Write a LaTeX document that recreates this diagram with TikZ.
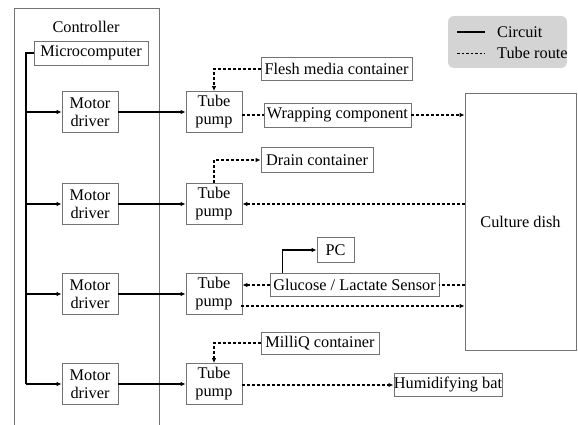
\documentclass[tikz,border=0pt]{standalone}
\usepackage{fontspec}
\newfontfamily\libserif{Liberation Serif}
\usetikzlibrary{arrows.meta}
\begin{document}
\begin{tikzpicture}[x=1pt,y=-1pt,
  font=\libserif\fontsize{16.3}{19}\selectfont,
  box/.style={draw=black!55,line width=0.8pt,inner sep=0pt,align=center},
  circ/.style={line width=1.2pt,black},
  tube/.style={line width=1.2pt,black,dash pattern=on 3pt off 2pt},
  tip/.style={-{Latex[length=5pt,width=4.5pt]}}]
\useasboundingbox (0,0) rectangle (578,425);
% controller frame (open bottom)
\draw[black!55,line width=0.9pt] (14,425) -- (14,8) -- (159,8) -- (159,425);
\node (ctrl) at (86,27) {Controller};
\node[box,minimum width=114,minimum height=24] (micro) at (91,53) {Microcomputer};
\foreach \i/\y in {1/112,2/204,3/294,4/384}{
  \node[box,minimum width=56,minimum height=41] (md\i) at (90,\y) {Motor\\[-1pt]driver};
  \node[box,minimum width=56,minimum height=41] (tp\i) at (214,\y) {Tube\\[-1pt]pump};
}
\coordinate (bus) at (26,0);
\node[box,minimum width=151,minimum height=23] (flesh) at (336.5,69) {Flesh media container};
\node[box,minimum width=147,minimum height=24] (wrap) at (337.5,115) {Wrapping component};
\node[box,minimum width=112,minimum height=25] (drain) at (317,160) {Drain container};
\node[box,minimum width=37,minimum height=25] (pc) at (335.5,250) {PC};
\node[box,minimum width=169,minimum height=23] (sensor) at (354.5,285) {Glucose / Lactate Sensor};
\node[box,minimum width=118,minimum height=22] (milliq) at (320,343) {MilliQ container};
\node[box,minimum width=96,minimum height=23] (humid) at (448,385) {Humidifying bat};
\node[box,minimum width=111,minimum height=257] (dish) at (520.5,221.5) {Culture dish};
% legend
\node[fill=black!17,rounded corners=6pt,minimum width=119,minimum height=52,inner sep=0pt] (legend) at (507.5,42) {};
\coordinate (l1a) at (457,32); \coordinate (l1b) at (485,32);
\coordinate (l2a) at (457,53); \coordinate (l2b) at (485,53);
\draw[line width=1.2pt] (l1a) -- (l1b);
\draw[line width=0.9pt,dash pattern=on 2.5pt off 2pt] (l2a) -- (l2b);
\node[anchor=west,inner sep=0pt] (lc) at (497,32) {Circuit};
\node[anchor=west,inner sep=0pt] (lt) at (497,53) {Tube route};
% circuit bus
\draw[circ] (micro.west) -- (micro.west -| bus) -- (bus |- md4.west);
\foreach \i in {1,2,3,4}{
  \draw[circ,tip] (bus |- md\i.west) -- (md\i.west);
  \draw[circ,tip] (md\i.east) -- (tp\i.west);
}
% row 1
\draw[tube,tip] (flesh.west) -| (tp1.north);
\draw[tube] (tp1.east |- wrap.west) -- (wrap.west);
\draw[tube,tip] (wrap.east) -- (dish.west |- wrap.east);
% row 2
\draw[tube,tip] (tp2.north) |- (drain.west);
\draw[tube,tip] (dish.west |- tp2.east) -- (tp2.east);
% row 3
\coordinate (sup) at ([xshift=13pt]sensor.north west);
\draw[circ,tip] (sup) |- (pc.west);
\draw[tube,tip] (sensor.west) -- (tp3.east |- sensor.west);
\draw[tube] (dish.west |- sensor.east) -- (sensor.east);
\coordinate (r3) at (241,306);
\draw[tube,tip] (r3) -- (dish.west |- r3);
% row 4
\draw[tube,tip] (milliq.west) -| (tp4.north);
\draw[tube,tip] (tp4.east |- humid.west) -- (humid.west);
\end{tikzpicture}
\end{document}
